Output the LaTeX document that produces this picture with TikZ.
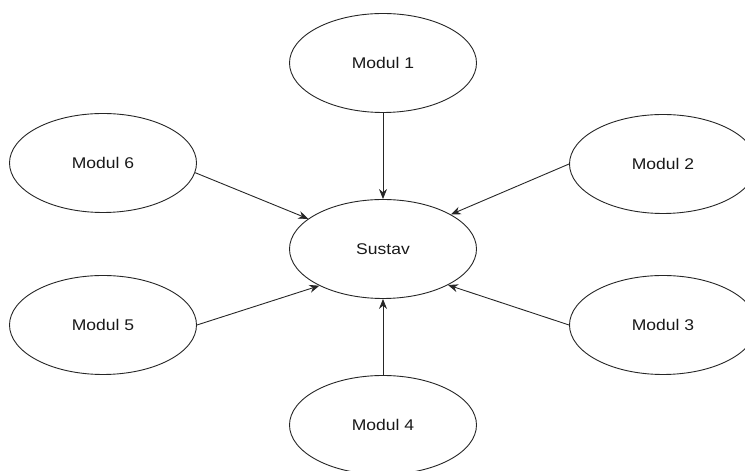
\documentclass[tikz,border=0pt]{standalone}
\usepackage{fontspec}
\setmainfont{Liberation Sans}[FakeStretch=1.13]
\usetikzlibrary{shapes.geometric,arrows.meta}
\begin{document}
\begin{tikzpicture}[x=1pt,y=1pt,
  modbox/.style={ellipse,draw=black!85,line width=0.9pt,fill=white,
    minimum width=187pt,minimum height=99pt,inner sep=0pt,
    font=\fontsize{15.5}{18}\selectfont,text=black!90},
  link/.style={draw=black!85,line width=0.9pt,-{Stealth[length=10pt,width=8pt]}}]
\useasboundingbox (0,0) rectangle (745,471);
\node[modbox] (s)  at (383,222) {Sustav};
\node[modbox] (m1) at (383,408) {Modul 1};
\node[modbox] (m2) at (663,307) {Modul 2};
\node[modbox] (m3) at (663,146) {Modul 3};
\node[modbox] (m4) at (383,46)  {Modul 4};
\node[modbox] (m5) at (103,146) {Modul 5};
\node[modbox] (m6) at (103,308) {Modul 6};
\draw[link] (m1.south) -- (s.north);
\draw[link] (m4.north) -- (s.south);
\draw[link] (m2.west) -- (s.27);
\draw[link] (m3.west) -- (s.-29);
\draw[link] (m5.east) -- (s.210);
\draw[link] (m6.-6) -- (s.158);
\end{tikzpicture}
\end{document}
